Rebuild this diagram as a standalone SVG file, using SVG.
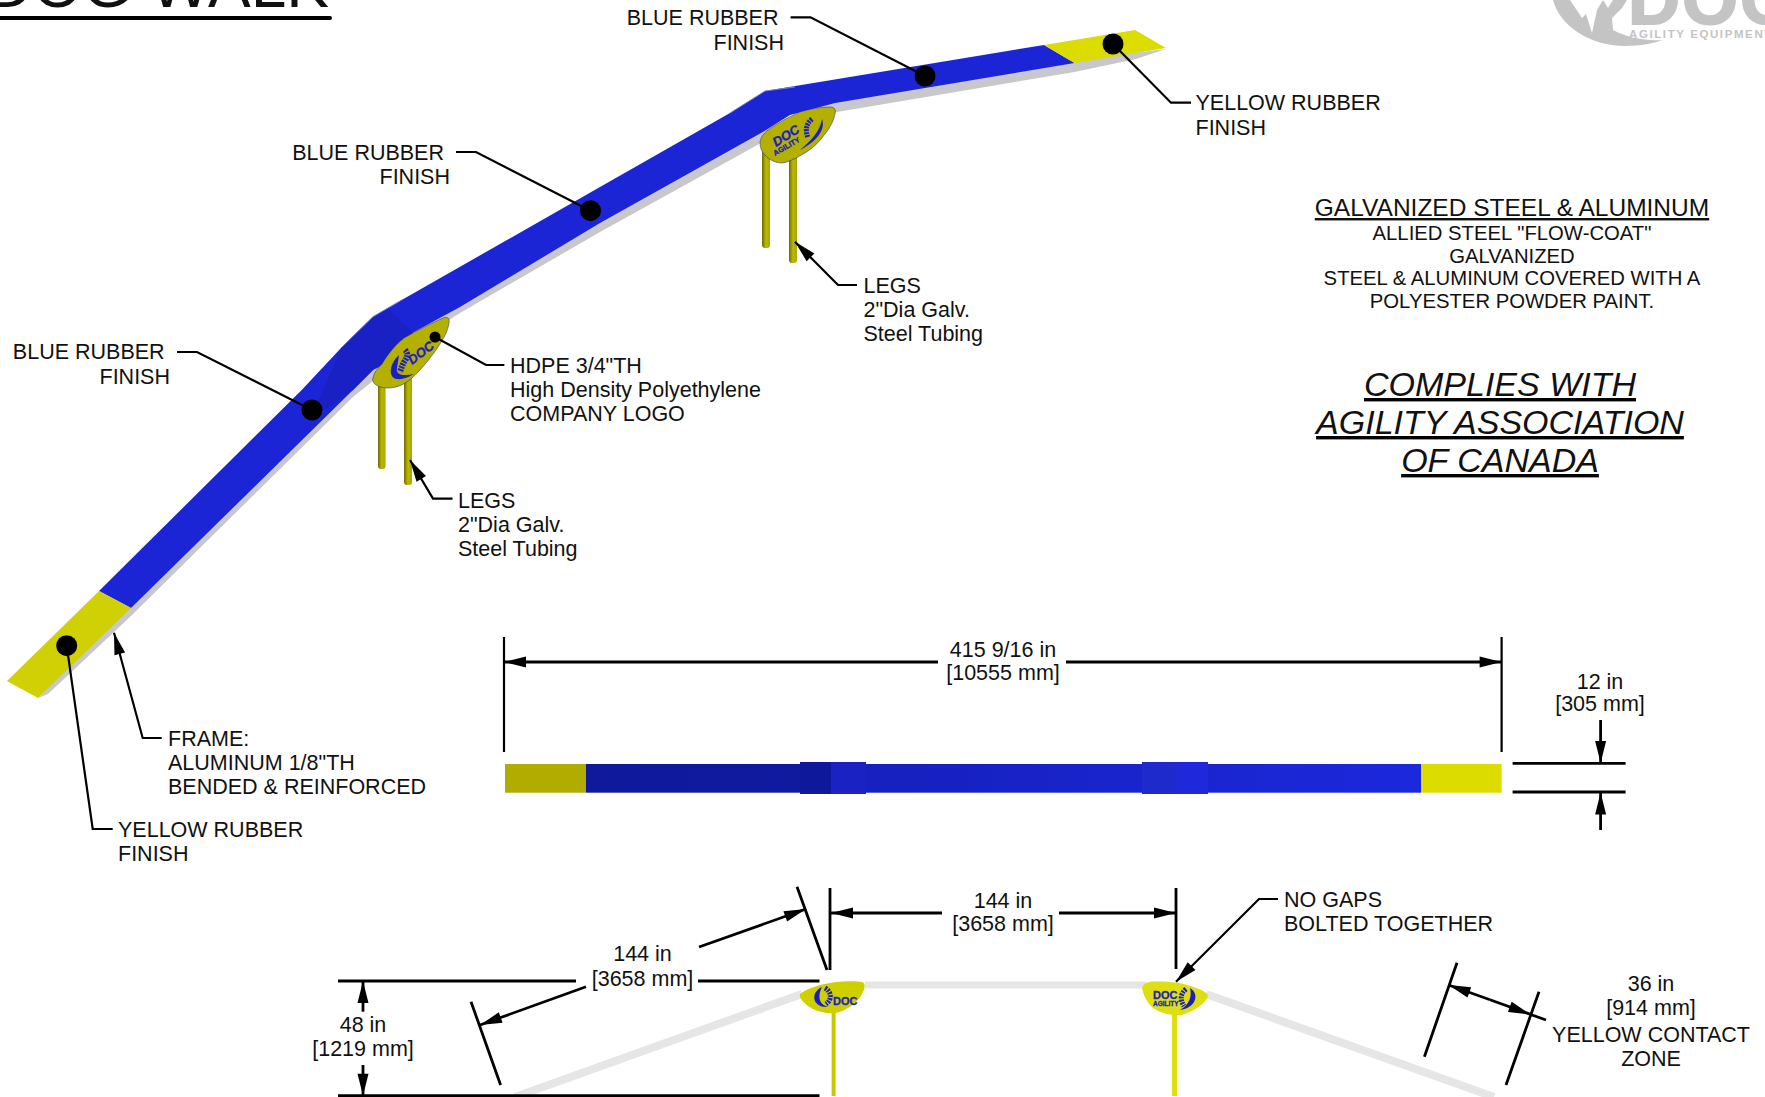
<svg xmlns="http://www.w3.org/2000/svg" width="1765" height="1097" viewBox="0 0 1765 1097">
<style>
text{font-family:"Liberation Sans",Arial,sans-serif;fill:#111}
.t{font-size:21.5px}
.m{text-anchor:middle}
.e{text-anchor:end}
.l{fill:none;stroke:#000;stroke-width:2.2}
.d{fill:none;stroke:#000;stroke-width:2.8}
.a{marker-end:url(#arr)}
.b{fill:#000}
.logo{font-weight:bold;fill:#1a20c0;stroke:#1a20c0;stroke-width:.3}
.gr{fill:none;stroke:#e6e6e6}
.dog{fill:none;stroke:#1a20c0;stroke-dasharray:2 1}
.blue{fill:#1a20c0}
</style>
<defs>
<marker id="arr" markerUnits="userSpaceOnUse" markerWidth="24" markerHeight="14" refX="22" refY="6" orient="auto" overflow="visible"><path d="M0,0.5 L22,6 L0,11.5 Z" fill="#000"/></marker>
<linearGradient id="leg" x1="0" x2="1" y1="0" y2="0"><stop offset="0" stop-color="#6e6c00"/><stop offset=".5" stop-color="#bdba00"/><stop offset="1" stop-color="#a8a500"/></linearGradient>
<linearGradient id="plan" gradientUnits="userSpaceOnUse" x1="586" x2="1421" y1="0" y2="0"><stop offset="0" stop-color="#10199c"/><stop offset=".29" stop-color="#0f1aa0"/><stop offset=".295" stop-color="#1620bc"/><stop offset="1" stop-color="#1c28dc"/></linearGradient>
</defs>

<g id="title">
<text x="329" y="7" font-size="64" text-anchor="end">DOG WALK</text>
<line x1="-5" y1="18" x2="330" y2="18" stroke="#000" stroke-width="4" stroke-linecap="round"/>
</g>

<g id="brand-logo">
<path d="M1553,0 C1560,26 1590,46 1625,46 C1640,46 1655,43 1663,40 C1645,41 1628,38 1613,30 L1612,18 L1622,8 L1627,0 L1613,0 L1608,8 L1603,0 L1597,10 L1592,33 L1586,14 L1582,18 L1570,0 Z" fill="#c4c4c4"/>
<text x="1628" y="24" font-size="72" font-weight="bold" letter-spacing="2" style="fill:#c4c4c4;stroke:#c4c4c4;stroke-width:2">DOC</text>
<text x="1629" y="37.7" font-size="11.5" font-weight="bold" letter-spacing="1.6" style="fill:#c4c4c4">AGILITY EQUIPMENT</text>
</g>

<g id="walk-3d">
<polygon points="38,698 48,694 131,616 353,397 378,377 410,345 460,313 600,232 761,143 837,112 1074.5,72 1136,59 1166,49 1074,60 835,100 761,130 600,220 460,304 403,335 353,387 131,605" fill="#c8c8cc"/>
<polygon points="99,591 301.7,390 341.7,347.3 373,316.7 401.7,300 600,187 730,113 765,91 1044,45 1074.5,63 835,103 790,115 761,133 600,223 460,307 403,338 373,370 353,390 131,608" fill="#1c25d6"/>
<polygon points="341.7,347.3 373,316.7 388,308 425,345 373,370 353,390 310,420" fill="#1a21c4"/>
<path d="M341.7,347.3 L373,316.7 L401.7,300 M730,113 L765,91 L795,87" fill="none" stroke="#7f82c8" stroke-width="1"/>
<polygon points="7,681 99,591 131,608 38,698" fill="#d0d004"/>
<polygon points="1044,45 1135,30 1166,48 1074.5,63" fill="#dcdc00"/>
</g>

<g id="support-1">
<rect x="378" y="375" width="7.5" height="94" rx="3" fill="url(#leg)"/>
<rect x="404" y="375" width="8" height="110" rx="3" fill="url(#leg)"/>
<path d="M373,378 C374,372 378,368 382,364 C388,354 396,344 404,338 C416,331 430,324 443,318 C448,316 450,319 449,323 C448,330 445,337 436,350 C428,361 420,371 412,378 C404,385 396,388 388,388 C382,388 376,386 374,383 C373,381 372,380 373,378 Z" fill="#b4b000" stroke="#1a20a0" stroke-width=".5"/>
<path class="blue" d="M399,355 C389,364 388,378 397,379 C404,380 410,376 414,374 C406,376 395,376 397,368 Z"/>
<path class="dog" stroke-width="6" d="M405,350 C409,354 407,358 404,362 C402,366 401,369 400,372"/>
<text class="logo" font-size="13" font-style="italic" transform="translate(412,365) rotate(-37)">DOC</text>
</g>

<g id="support-2">
<rect x="762" y="150" width="8" height="98" rx="3" fill="url(#leg)"/>
<rect x="789" y="150" width="8" height="113" rx="3" fill="url(#leg)"/>
<path d="M760,142 C761,137 763,134 768,130 C778,123 788,117 800,112 C810,109 820,107 830,107 C835,107 836,110 835,114 C834,120 830,128 825,134 C820,141 814,147 808,151 C800,156 790,162 782,163 C776,163 769,160 765,155 C761,151 760,147 760,142 Z" fill="#b4b000" stroke="#1a20a0" stroke-width=".5"/>
<path class="blue" d="M822,119 C826,130 816,142 800,150 C811,141 820,131 822,119 Z"/>
<path class="dog" stroke-width="5" d="M812,119 C806,124 805,130 808,138"/>
<text class="logo" font-size="13" font-style="italic" transform="translate(776,147) rotate(-32)">DOC</text>
<text class="logo" font-size="7.5" transform="translate(775,156) rotate(-30)">AGILITY</text>
</g>

<g id="plan-view">
<rect x="505" y="764" width="81" height="28.7" fill="#b0ac00"/>
<rect x="586" y="764" width="835" height="28.7" fill="url(#plan)"/>
<rect x="1421" y="764" width="80.6" height="28.7" fill="#dcdc00"/>
<rect x="800" y="762" width="31" height="32" fill="#0e189a"/>
<rect x="831" y="762" width="35" height="32" fill="#1a22c4"/>
<rect x="1142" y="762" width="33" height="32" fill="#1e2acb"/>
<rect x="1175" y="762" width="33" height="32" fill="#2028dc"/>
</g>

<g id="side-view">
<path class="gr" stroke-width="7" d="M865,985 H1146"/>
<path class="gr" stroke-width="8" d="M802,994 L515,1097"/>
<path class="gr" stroke-width="8" d="M1206,994 L1494,1097"/>
<rect x="831.6" y="1010" width="4" height="86" fill="#c8c800"/>
<rect x="1172" y="1010" width="5" height="86" fill="#dede10"/>
<path d="M800,994 C806,989 820,984 836,982 C845,981 856,981 862,982 C866,983 865,989 862,994 C858,1002 848,1010 836,1013 C825,1014 815,1011 808,1006 C803,1002 799,998 800,994 Z" fill="#cfcf00"/>
<path class="blue" d="M822,987 C810,992 812,1008 828,1007 C818,1004 818,995 822,987 Z"/>
<path class="dog" stroke-width="5" d="M825,988 C832,992 832,1000 826,1004"/>
<text class="logo" x="833" y="1005" font-size="11">DOC</text>
<path d="M1142,988 C1143,983 1148,981 1156,981.5 C1170,981 1185,983 1196,988 C1202,990 1208,993 1208,996 C1206,1003 1196,1010 1182,1015 C1172,1016 1160,1013 1153,1008 C1147,1003 1143,994 1142,988 Z" fill="#dede10"/>
<path class="blue" d="M1190,988 C1200,994 1196,1008 1180,1010 C1190,1004 1192,996 1190,988 Z"/>
<path class="dog" stroke-width="5" d="M1186,989 C1180,994 1180,1000 1184,1006"/>
<text class="logo" x="1153" y="999" font-size="11">DOC</text>
<text class="logo" x="1153" y="1006" font-size="6.5">AGILITY</text>
</g>

<g id="connectors">
<circle class="b" cx="925" cy="76" r="10.5"/><circle class="b" cx="590.5" cy="210.7" r="10.5"/><circle class="b" cx="312" cy="410" r="10.5"/><circle class="b" cx="1113" cy="44" r="10.5"/><circle class="b" cx="66.7" cy="645.7" r="10.5"/><circle class="b" cx="435" cy="337" r="5.5"/>
<path class="l" d="M790.6,17.3 H810.5 L925,76"/>
<path class="l" d="M456,152 H476 L590.5,210.7"/>
<path class="l" d="M177,352 H197 L312,410"/>
<path class="l" d="M1113,44 L1171,102.7 H1191"/>
<path class="l" d="M435,337 L486,365 H504.4"/>
<path class="l" d="M66.7,645.7 L92.7,829 H112.7"/>
<path class="l a" d="M857,285 H838 L795,241.7"/>
<path class="l a" d="M452.5,498.6 H433 L410,460"/>
<path class="l a" d="M161.7,738 H142.7 L114,632.7"/>
<path class="l a" d="M1278,899 H1259 L1176,981.7"/>
<path class="l" d="M504,637 V752 M1501.6,637 V752"/>
<path class="d a" d="M938,662 H504"/><path class="d a" d="M1066,662 H1501.6"/>
<path class="d" d="M1512.6,763.3 H1625.6 M1512.6,792 H1625.6"/>
<path class="d a" d="M1600.6,720 V763"/><path class="d a" d="M1600.6,830 V792.5"/>
<path class="d" d="M338,981 H576 M698,981 H819.5 M338,1095.7 H819.5"/>
<path class="d a" d="M363,1011.7 V981"/><path class="d a" d="M363,1065 V1095.7"/>
<path class="d" d="M797,886.7 L827,970 M830,888 V970 M1176,888 V969 M471,1001.7 L500.6,1085"/>
<path class="d a" d="M699,947 L806,909"/><path class="d a" d="M586,986.7 L480,1025"/>
<path class="d a" d="M942,913 H831"/><path class="d a" d="M1059,913 H1176"/>
<path class="d" d="M1457,962.7 L1424.4,1056.7 M1539,991.7 L1506,1085"/>
<path class="d a" d="M1490,999.8 L1448.6,985"/><path class="d a" d="M1490,999.8 L1530.5,1014.4"/>
<path class="d" d="M1530,1014.2 L1546,1020"/>
</g>

<g id="labels">
<text class="t e"><tspan x="778.5" y="25">BLUE RUBBER</tspan><tspan x="784" y="50">FINISH</tspan></text>
<text class="t e"><tspan x="444" y="160">BLUE RUBBER</tspan><tspan x="450" y="184">FINISH</tspan></text>
<text class="t e"><tspan x="164.6" y="359">BLUE RUBBER</tspan><tspan x="170" y="384">FINISH</tspan></text>
<text class="t"><tspan x="1195.5" y="110">YELLOW RUBBER</tspan><tspan x="1195.5" y="135">FINISH</tspan></text>
<text class="t"><tspan x="510" y="373">HDPE 3/4"TH</tspan><tspan x="510" y="397">High Density Polyethylene</tspan><tspan x="510" y="421">COMPANY LOGO</tspan></text>
<text class="t"><tspan x="863.5" y="293">LEGS</tspan><tspan x="863.5" y="317">2"Dia Galv.</tspan><tspan x="863.5" y="341">Steel Tubing</tspan></text>
<text class="t"><tspan x="458" y="507.5">LEGS</tspan><tspan x="458" y="532">2"Dia Galv.</tspan><tspan x="458" y="556">Steel Tubing</tspan></text>
<text class="t"><tspan x="168" y="746">FRAME:</tspan><tspan x="168" y="770">ALUMINUM 1/8"TH</tspan><tspan x="168" y="794">BENDED &amp; REINFORCED</tspan></text>
<text class="t"><tspan x="118" y="837">YELLOW RUBBER</tspan><tspan x="118" y="861">FINISH</tspan></text>
<text class="t"><tspan x="1284" y="907">NO GAPS</tspan><tspan x="1284" y="931">BOLTED TOGETHER</tspan></text>
<text class="t m"><tspan x="1003" y="657">415 9/16 in</tspan><tspan x="1003" y="680">[10555 mm]</tspan></text>
<text class="t m"><tspan x="1600" y="689">12 in</tspan><tspan x="1600" y="711">[305 mm]</tspan></text>
<text class="t m"><tspan x="1003" y="908">144 in</tspan><tspan x="1003" y="931">[3658 mm]</tspan></text>
<text class="t m"><tspan x="642.5" y="961">144 in</tspan><tspan x="642.5" y="985.7">[3658 mm]</tspan></text>
<text class="t m"><tspan x="363" y="1032">48 in</tspan><tspan x="363" y="1056">[1219 mm]</tspan></text>
<text class="t m"><tspan x="1651" y="991">36 in</tspan><tspan x="1651" y="1015">[914 mm]</tspan><tspan x="1651" y="1042">YELLOW CONTACT</tspan><tspan x="1651" y="1066">ZONE</tspan></text>
<text class="m" x="1512" y="216" font-size="24.5" text-decoration="underline">GALVANIZED STEEL &amp; ALUMINUM</text>
<text class="m" font-size="20.3"><tspan x="1512" y="240">ALLIED STEEL "FLOW-COAT"</tspan><tspan x="1512" y="263">GALVANIZED</tspan><tspan x="1512" y="285">STEEL &amp; ALUMINUM COVERED WITH A</tspan><tspan x="1512" y="308">POLYESTER POWDER PAINT.</tspan></text>
<g font-size="34" font-style="italic" text-decoration="underline" text-anchor="middle">
<text x="1500" y="396">COMPLIES WITH</text>
<text x="1500" y="434">AGILITY ASSOCIATION</text>
<text x="1500" y="472">OF CANADA</text>
</g>
</g>
</svg>
